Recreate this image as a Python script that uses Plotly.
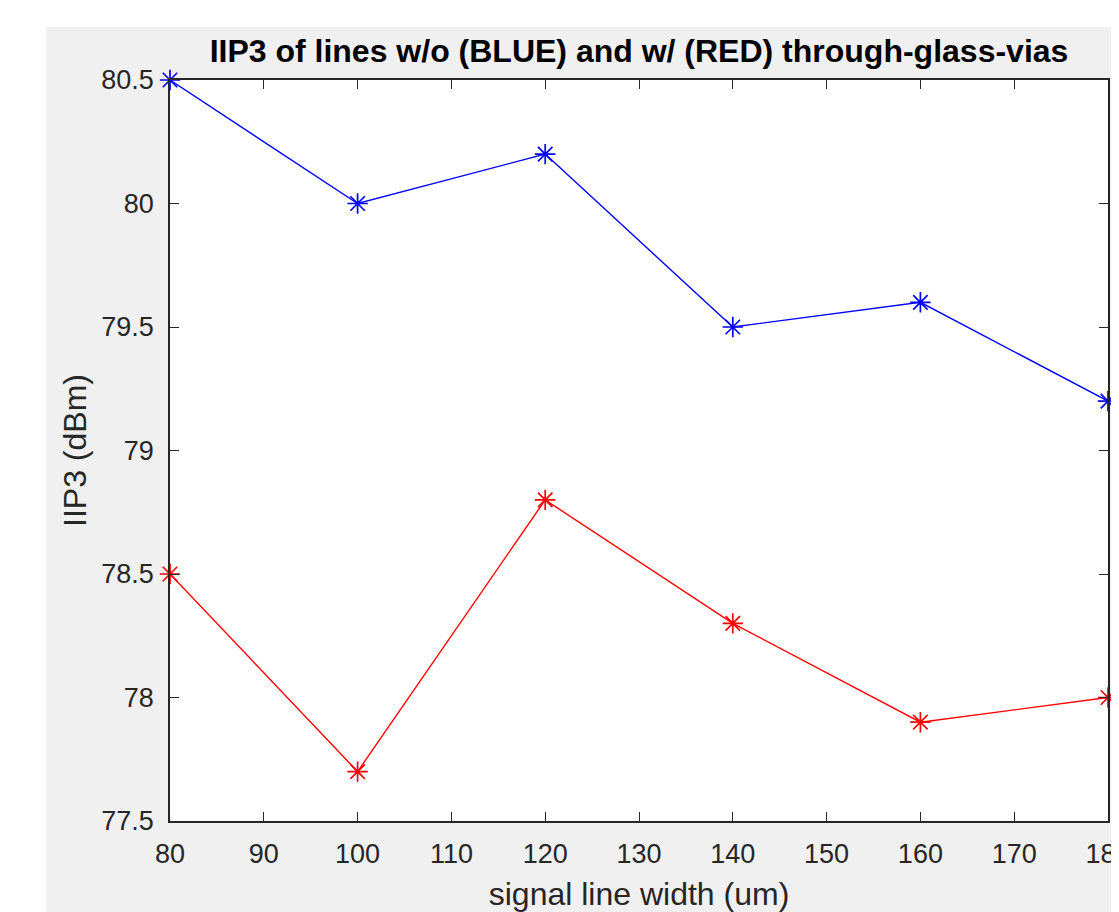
import plotly.graph_objects as go

widths = [80, 100, 120, 140, 160, 180]
iip3_without_tgv = [80.5, 80.0, 80.2, 79.5, 79.6, 79.2]
iip3_with_tgv = [78.5, 77.7, 78.8, 78.3, 77.9, 78.0]
x_ticks = [80, 90, 100, 110, 120, 130, 140, 150, 160, 170, 180]
y_ticks = [77.5, 78, 78.5, 79, 79.5, 80, 80.5]
y_tick_text = ["77.5", "78", "78.5", "79", "79.5", "80", "80.5"]

OFF = 8  # page body margin
W, H = 1119 - OFF, 912 - OFF
# screen-pixel layout
SL, SR, ST, SB = 170, 1108, 80, 821
L, R, T, B = SL - OFF, SR - OFF, ST - OFF, SB - OFF
pw, ph = R - L, B - T

def px_x(p):
    return (p - OFF - L) / pw

def px_y(p):
    return (B - (p - OFF)) / ph

FONT = "Liberation Sans, Arial, Helvetica, sans-serif"
AX = "#262626"

fig = go.Figure()
fig.add_trace(go.Scatter(x=widths, y=iip3_without_tgv, mode="lines+markers",
                         line=dict(color="#0000ff", width=1.4),
                         marker=dict(symbol="asterisk-open", size=17,
                                     line=dict(color="#0000ff", width=1.7)),
                         cliponaxis=False, showlegend=False))
fig.add_trace(go.Scatter(x=widths, y=iip3_with_tgv, mode="lines+markers",
                         line=dict(color="#ff0000", width=1.4),
                         marker=dict(symbol="asterisk-open", size=17,
                                     line=dict(color="#ff0000", width=1.7)),
                         cliponaxis=False, showlegend=False))

axis_common = dict(showgrid=False, zeroline=False, showline=True, linecolor=AX,
                   linewidth=1.5, mirror="allticks", ticks="inside", ticklen=9,
                   tickwidth=1.2, tickcolor=AX, automargin=False,
                   tickfont=dict(family=FONT, size=27, color=AX))

fig.update_xaxes(range=[80, 180], tickvals=x_ticks, ticklabelstandoff=8,
                 ticklabeloverflow="allow", **axis_common,
                 title=dict(text="signal line width (um)", standoff=15,
                            font=dict(family=FONT, size=32, color=AX)))
fig.update_yaxes(range=[77.5, 80.5], tickvals=y_ticks, ticktext=y_tick_text,
                 ticklabelstandoff=9, **axis_common,
                 title=dict(text="IIP3 (dBm)", standoff=5,
                            font=dict(family=FONT, size=32, color=AX)))

fig.update_layout(
    width=W, height=H,
    margin=dict(l=L, r=W - R, t=T, b=H - B, pad=0, autoexpand=False),
    paper_bgcolor="#f0f0f0", plot_bgcolor="#ffffff",
    title=dict(text="<b>IIP3 of lines w/o (BLUE) and w/ (RED) through-glass-vias</b>",
               x=px_x(639), xref="paper", xanchor="center",
               y=1 - (51 - OFF) / H, yanchor="middle",
               font=dict(family=FONT, size=32, color="#000000")),
    shapes=[
        dict(type="rect", xref="paper", yref="paper", layer="below",
             x0=px_x(-20), x1=px_x(46), y0=px_y(H + 50), y1=px_y(-20),
             fillcolor="#ffffff", line=dict(width=0)),
        dict(type="rect", xref="paper", yref="paper", layer="below",
             x0=px_x(-20), x1=px_x(1200), y0=px_y(27), y1=px_y(-20),
             fillcolor="#ffffff", line=dict(width=0)),
    ],
)

fig.write_html("out.html")
